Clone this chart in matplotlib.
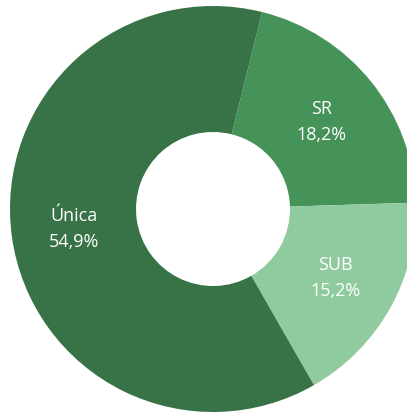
import numpy as np
import matplotlib
matplotlib.use("Agg")
import matplotlib.pyplot as plt

labels = ["SR", "SUB", "Única"]
values = [18.2, 15.2, 54.9]
colors = ["#46935A", "#90CBA0", "#377347"]

plt.rcParams["font.family"] = ["Open Sans", "DejaVu Sans"]

fig = plt.figure(figsize=(4.07, 4.14), dpi=100)
ax = fig.add_axes([0, 0, 1, 1])

cx, cy, r_out, r_in = 213, 204, 203, 77
wedges, _ = ax.pie(values, colors=colors, startangle=76, counterclock=False,
                   center=(cx, cy), radius=r_out,
                   wedgeprops=dict(width=r_out - r_in, linewidth=0))

r_lab = (r_out + r_in) / 2
for w, lab, v in zip(wedges, labels, values):
    ang = np.deg2rad((w.theta1 + w.theta2) / 2)
    x = cx + r_lab * np.cos(ang)
    y = cy + r_lab * np.sin(ang)
    txt = f"{lab}\n{v:.1f}%".replace(".", ",")
    ax.text(x, y, txt, ha="center", va="center", color="white",
            fontsize=13, linespacing=1.6)

ax.set_xlim(0, 407)
ax.set_ylim(0, 414)
ax.set_aspect("equal")
ax.axis("off")
fig.savefig("out.png", dpi=100, facecolor="white")
